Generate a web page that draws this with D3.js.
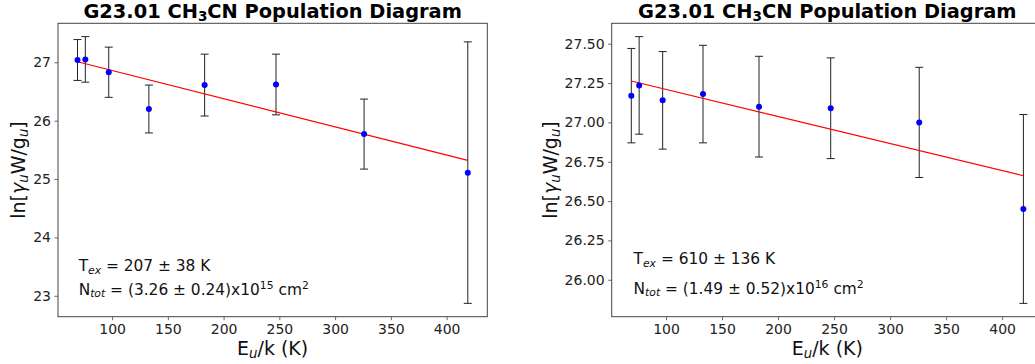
<!DOCTYPE html>
<html>
<head>
<meta charset="utf-8">
<script src="https://cdn.jsdelivr.net/npm/d3@7"></script>
<style>
  html, body { margin: 0; padding: 0; background: #fff; }
  svg { display: block; font-family: "DejaVu Sans", sans-serif; }
</style>
</head>
<body>
<div id="chart"></div>
<script>
// Population diagrams, two panels side by side.
// Data.

const energies = [69, 76, 97, 133, 183, 247, 326, 419];   // E_u/k (K)

// left panel
const lnLeft  = [27.04, 27.05, 26.83, 26.20, 26.61, 26.62, 25.77, 25.11];
const errLeft = [0.35, 0.39, 0.43, 0.41, 0.53, 0.52, 0.60, 2.24];
const fitLeftX = [69, 419];
const fitLeftY = [27.01, 25.32];
const yTicksLeft = [23, 24, 25, 26, 27];

// right panel
const lnRight  = [27.17, 27.235, 27.14, 27.18, 27.10, 27.09, 27.00, 26.45];
const errRight = [0.30, 0.31, 0.31, 0.31, 0.32, 0.32, 0.35, 0.60];
const fitRightX = [69, 419];
const fitRightY = [27.263, 26.661];
const yTicksRight = [26.00, 26.25, 26.50, 26.75, 27.00, 27.25, 27.50];

const xTicks = [100, 150, 200, 250, 300, 350, 400];

const W = 1035, H = 364;
const svg = d3.select("#chart").append("svg")
  .attr("width", W).attr("height", H);
svg.append("rect").attr("width", W).attr("height", H).attr("fill", "#fff");

// matplotlib-like autoscale: 5% margins
function padded(lo, hi) {
  const m = (hi - lo) * 0.05;
  return [lo - m, hi + m];
}

function drawPanel(opt) {
  const g = svg.append("g");
  const top = 23.3, bottom = 316.7;

  const x = d3.scaleLinear()
    .domain(padded(d3.min(energies), d3.max(energies)))
    .range([opt.left, opt.right]);
  const yLo = d3.min(opt.y.map((v, i) => v - opt.err[i]));
  const yHi = d3.max(opt.y.map((v, i) => v + opt.err[i]));
  const y = d3.scaleLinear()
    .domain(padded(yLo, yHi))
    .range([bottom, top]);

  const axisColor = "#444";

  // axes
  const xAxis = g.append("g")
    .attr("transform", `translate(0,${bottom})`)
    .call(d3.axisBottom(x).tickValues(xTicks).tickSize(3.5).tickPadding(3.5).tickSizeOuter(0));
  const yAxis = g.append("g")
    .attr("transform", `translate(${opt.left},0)`)
    .call(d3.axisLeft(y).tickValues(opt.yTicks).tickFormat(d3.format(opt.fmt))
      .tickSize(3.5).tickPadding(3.5).tickSizeOuter(0));

  [xAxis, yAxis].forEach(a => {
    a.select(".domain").remove();
    a.selectAll(".tick line").attr("stroke", axisColor).attr("stroke-width", 0.8);
    a.selectAll(".tick text")
      .attr("fill", "#222")
      .style("font-size", "14px")
      .style("font-family", "DejaVu Sans");
  });

  // frame
  g.append("rect")
    .attr("x", opt.left).attr("y", top)
    .attr("width", opt.right - opt.left).attr("height", bottom - top)
    .attr("fill", "none").attr("stroke", axisColor).attr("stroke-width", 1);

  const rows = energies.map((e, i) => ({ e, v: opt.y[i], err: opt.err[i] }));

  // error bars
  const eb = g.append("g").attr("stroke", "#222").attr("stroke-width", 1);
  eb.selectAll(".bar").data(rows).enter().append("line")
    .attr("x1", d => x(d.e)).attr("x2", d => x(d.e))
    .attr("y1", d => y(d.v - d.err)).attr("y2", d => y(d.v + d.err));
  eb.selectAll(".capTop").data(rows).enter().append("line")
    .attr("x1", d => x(d.e) - 4).attr("x2", d => x(d.e) + 4)
    .attr("y1", d => y(d.v + d.err)).attr("y2", d => y(d.v + d.err));
  eb.selectAll(".capBot").data(rows).enter().append("line")
    .attr("x1", d => x(d.e) - 4).attr("x2", d => x(d.e) + 4)
    .attr("y1", d => y(d.v - d.err)).attr("y2", d => y(d.v - d.err));

  // fit line
  const line = d3.line().x(d => x(d[0])).y(d => y(d[1]));
  g.append("path")
    .datum(opt.fitX.map((v, i) => [v, opt.fitY[i]]))
    .attr("d", line)
    .attr("fill", "none").attr("stroke", "#ff0000").attr("stroke-width", 1.2);

  // points
  g.selectAll(".pt").data(rows).enter().append("circle")
    .attr("cx", d => x(d.e)).attr("cy", d => y(d.v))
    .attr("r", 3).attr("fill", "#0000ff");

  const cx = (opt.left + opt.right) / 2;

  // title
  const title = g.append("text")
    .attr("x", cx).attr("y", 17.5)
    .attr("text-anchor", "middle")
    .style("font-size", "19.4px").style("font-weight", "bold").attr("fill", "#000");
  title.append("tspan").text("G23.01 CH");
  title.append("tspan").text("3").style("font-size", "13.6px").attr("dy", 3);
  title.append("tspan").text("CN Population Diagram").attr("dy", -3);

  // x label
  const xl = g.append("text")
    .attr("x", cx).attr("y", 354.5)
    .attr("text-anchor", "middle")
    .style("font-size", "19px").attr("fill", "#111");
  xl.append("tspan").text("E");
  xl.append("tspan").text("u").style("font-size", "13.3px").style("font-style", "italic").attr("dy", 3);
  xl.append("tspan").text("/k (K)").attr("dy", -3);

  // y label
  const yl = g.append("text")
    .attr("transform", `translate(${opt.ylabelX},${(top + bottom) / 2}) rotate(-90)`)
    .attr("text-anchor", "middle")
    .style("font-size", "19px").attr("fill", "#111");
  yl.append("tspan").text("ln[");
  yl.append("tspan").text("γ").style("font-style", "italic");
  yl.append("tspan").text("u").style("font-size", "13.3px").style("font-style", "italic").attr("dy", 3);
  yl.append("tspan").text("W/g").attr("dy", -3);
  yl.append("tspan").text("u").style("font-size", "13.3px").style("font-style", "italic").attr("dy", 3);
  yl.append("tspan").text("]").attr("dy", -3);

  // annotations
  const t1 = g.append("text")
    .attr("x", x(opt.noteX)).attr("y", y(opt.noteY[0]))
    .style("font-size", "15.4px").attr("fill", "#111");
  t1.append("tspan").text("T");
  t1.append("tspan").text("ex").style("font-size", "10.8px").style("font-style", "italic").attr("dy", 2.5);
  t1.append("tspan").text(" = " + opt.tex).attr("dy", -2.5);

  const t2 = g.append("text")
    .attr("x", x(opt.noteX)).attr("y", y(opt.noteY[1]))
    .style("font-size", "15.4px").attr("fill", "#111");
  t2.append("tspan").text("N");
  t2.append("tspan").text("tot").style("font-size", "10.8px").style("font-style", "italic").attr("dy", 2.5);
  t2.append("tspan").text(" = " + opt.ntot + "x10").attr("dy", -2.5);
  t2.append("tspan").text(opt.exp).style("font-size", "10.8px").attr("dy", -6);
  t2.append("tspan").text(" cm").style("font-size", "15.4px").attr("dy", 6);
  t2.append("tspan").text("2").style("font-size", "10.8px").attr("dy", -6);
}

drawPanel({
  left: 58, right: 487.3,
  y: lnLeft, err: errLeft, fitX: fitLeftX, fitY: fitLeftY,
  yTicks: yTicksLeft, fmt: "d", ylabelX: 25,
  noteX: 70, noteY: [23.42, 23.02],
  tex: "207 ± 38 K", ntot: "(3.26 ± 0.24)", exp: "15"
});

drawPanel({
  left: 611.7, right: 1043,
  y: lnRight, err: errRight, fitX: fitRightX, fitY: fitRightY,
  yTicks: yTicksRight, fmt: ".2f", ylabelX: 557,
  noteX: 71, noteY: [26.10, 25.91],
  tex: "610 ± 136 K", ntot: "(1.49 ± 0.52)", exp: "16"
});
</script>
</body>
</html>
